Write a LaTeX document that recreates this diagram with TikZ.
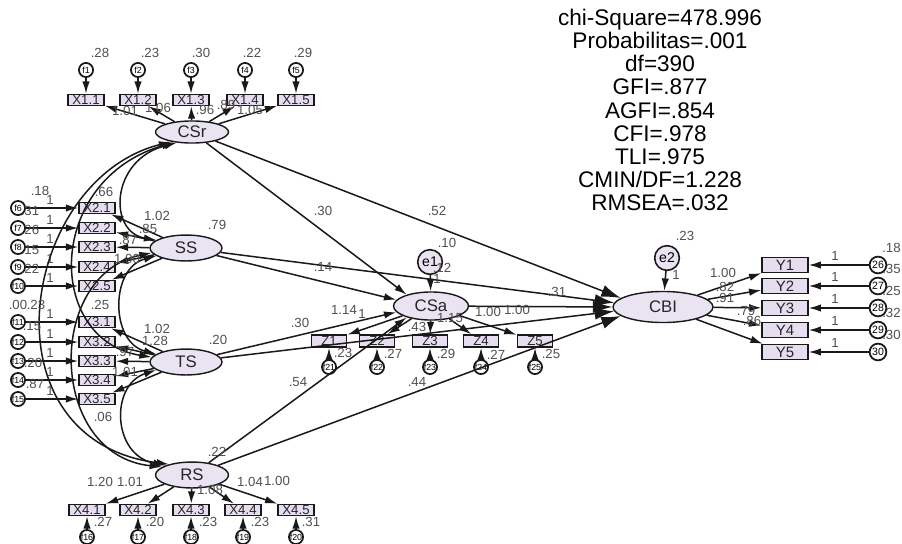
\documentclass[tikz,border=0pt]{standalone}
\usepackage{fontspec}
\setmainfont{Liberation Sans}
\usetikzlibrary{shapes.geometric,arrows.meta}
\definecolor{latfill}{RGB}{233,227,242}
\definecolor{boxfill}{RGB}{230,222,240}
\definecolor{lblcol}{RGB}{80,80,80}
\definecolor{linecol}{RGB}{25,25,25}
\begin{document}
\begin{tikzpicture}[x=0.567pt,y=-0.567pt,
  lat/.style={ellipse,draw=linecol,fill=latfill,line width=0.8pt,inner sep=0pt,font=\fontsize{9.5}{10}\selectfont,text=black!85},
  obs/.style={rectangle,draw=linecol,fill=boxfill,line width=0.9pt,inner sep=0pt,minimum width=20.4pt,minimum height=6.2pt,font=\fontsize{7.5}{7.5}\selectfont,text=black!85},
  yobs/.style={obs,minimum width=26pt,minimum height=8.5pt,font=\fontsize{8.5}{8.5}\selectfont,line width=0.8pt},
  zobs/.style={obs,minimum width=20pt,minimum height=6.8pt},
  err/.style={circle,draw=linecol,fill=white,line width=1pt,minimum size=8pt,inner sep=0pt,font=\fontsize{5}{5}\selectfont},
  yerr/.style={err,minimum size=9.5pt,font=\fontsize{6}{6}\selectfont},
  bigerr/.style={circle,draw=linecol,fill=latfill,line width=0.9pt,minimum size=14pt,inner sep=0pt,font=\fontsize{8}{8}\selectfont},
  lbl/.style={font=\fontsize{7.5}{7.5}\selectfont,text=lblcol,inner sep=0pt},
  arr/.style={draw=linecol,line width=0.85pt,-{Latex[length=7pt,width=4.2pt]}},
  bigarr/.style={draw=linecol,line width=0.85pt,-{Latex[length=11pt,width=7pt]}},
  cov/.style={draw=linecol,line width=0.85pt,{Latex[length=7pt,width=4.2pt]}-{Latex[length=7pt,width=4.2pt]}}
]
\useasboundingbox (0,0) rectangle (902,543);
\fill[white] (0,0) rectangle (902,543);

% fit statistics
\node[font=\fontsize{12.8}{13.1}\selectfont,align=center,inner sep=0pt] (stats) at (660,110)
 {chi-Square=478.996\\Probabilitas=.001\\df=390\\GFI=.877\\AGFI=.854\\CFI=.978\\TLI=.975\\CMIN/DF=1.228\\RMSEA=.032};

% latent variables
\node[lat,minimum width=41.4pt,minimum height=12.5pt] (CSr) at (192,132) {CSr};
\node[lat,minimum width=40.8pt,minimum height=14.7pt] (SS) at (186,248) {SS};
\node[lat,minimum width=40.8pt,minimum height=14.7pt] (TS) at (186,362) {TS};
\node[lat,minimum width=41.4pt,minimum height=14.7pt] (RS) at (192,475) {RS};
\node[lat,minimum width=42.5pt,minimum height=15.9pt] (CSa) at (431,306) {CSa};
\node[lat,minimum width=56.7pt,minimum height=17.6pt] (CBI) at (663,307) {CBI};
\node[bigerr] (e1) at (430,262) {e1};
\node[bigerr] (e2) at (667,258) {e2};

% indicators
\foreach \i/\x in {1/86,2/138,3/191,4/245,5/296}{
  \node[obs] (X1\i) at (\x,100) {X1.\i};
  \node[err] (f\i) at (\x,70) {f\i};
  \draw[arr] (CSr) -- (X1\i);
  \draw[arr] (f\i) -- (X1\i);
}
\foreach \i/\y [evaluate=\i as \k using int(\i+5)] in {1/208,2/228,3/247,4/267,5/286}{
  \node[obs] (X2\i) at (97,\y) {X2.\i};
  \node[err] (f\k) at (18,\y) {f\k};
  \draw[arr] (SS) -- (X2\i);
  \draw[arr] (f\k) -- (X2\i);
  \node[lbl] (oneb\i) at (50,\y-8) {1};
}
\foreach \i/\y [evaluate=\i as \k using int(\i+10)] in {1/322,2/342,3/361,4/380,5/399}{
  \node[obs] (X3\i) at (97,\y) {X3.\i};
  \node[err] (f\k) at (18,\y) {f\k};
  \draw[arr] (TS) -- (X3\i);
  \draw[arr] (f\k) -- (X3\i);
  \node[lbl] (onec\i) at (50,\y-8) {1};
}
\foreach \i/\x [evaluate=\i as \k using int(\i+15)] in {1/87,2/138,3/191,4/243,5/296}{
  \node[obs] (X4\i) at (\x,510) {X4.\i};
  \node[err] (f\k) at (\x,537) {f\k};
  \draw[arr] (RS) -- (X4\i);
  \draw[arr] (f\k) -- (X4\i);
}
\foreach \i/\x [evaluate=\i as \k using int(\i+20)] in {1/329,2/377,3/430,4/481,5/535}{
  \node[zobs] (Z\i) at (\x,341) {Z\i};
  \node[err] (f\k) at (\x,367) {f\k};
  \draw[arr] (CSa) -- (Z\i);
  \draw[arr] (f\k) -- (Z\i);
}
\foreach \i/\y [evaluate=\i as \k using int(\i+25)] in {1/265,2/286,3/308,4/330,5/352}{
  \node[yobs] (Y\i) at (785,\y) {Y\i};
  \node[yerr] (g\k) at (878,\y) {\k};
  \draw[arr] (CBI) -- (Y\i);
  \draw[arr] (g\k) -- (Y\i);
  \node[lbl] (oned\i) at (835,\y-9) {1};
}

% covariances
\draw[cov] (CSr.215) .. controls (110,160) and (108,232) .. (SS.165);
\draw[cov] (SS.195) .. controls (110,268) and (110,342) .. (TS.165);
\draw[cov] (TS.195) .. controls (110,385) and (112,455) .. (RS.160);
\draw[cov] (CSr.210) .. controls (45,180) and (45,340) .. (TS.172);
\draw[cov] (SS.188) .. controls (45,275) and (48,455) .. (RS.165);
\draw[cov] (CSr.205) .. controls (20,180) and (-20,440) .. (RS.155);

% structural paths
\draw[arr] (CSr) -- (CSa.155);
\draw[arr] (SS) -- (CSa.170);
\draw[arr] (TS) -- (CSa.190);
\draw[arr] (RS) -- (CSa.205);
\draw[bigarr] (CSr) -- (CBI.168);
\draw[bigarr] (SS) -- (CBI.175);
\draw[bigarr] (CSa) -- (CBI.west);
\draw[bigarr] (TS) -- (CBI.185);
\draw[bigarr] (RS) -- (CBI.192);
\draw[arr] (e1) -- (CSa);
\draw[arr] (e2) -- (CBI);

% path coefficients and variances
\foreach \t/\x/\y [count=\n] in {.30/323/211,.52/437/211,.14/323/267,.31/557/292,.30/300/323,.54/298/382,.44/417/382,.10/447/243,.12/442/268,1/437/279,.23/685/236,1/676/275,.79/217/225,.20/218/340,.22/217/452,.66/104/192,.25/100/305,.06/103/417}
  \node[lbl] (pl\n) at (\x,\y) {\t};
% error variances
\foreach \t/\x/\y [count=\n] in {.28/100/53,.23/150/53,.30/201/53,.22/252/53,.29/303/53,
  .18/40/191,.31/30/211,.26/30/230,.15/30/250,.22/30/269,.00/18/305,.23/36/305,.15/32/326,.20/33/363,.87/35/384,
  .27/103/522,.20/155/522,.23/208/522,.23/260/522,.31/311/522,
  .23/343/353,.27/393/354,.29/446/354,.27/496/355,.25/551/354}
  \node[lbl] (vl\n) at (\x,\y) {\t};
\foreach \t/\y [count=\n] in {.18/248,.35/269,.25/291,.32/313,.30/335}
  \node[lbl,anchor=east] (yv\n) at (901,\y) {\t};
% loadings
\foreach \t/\x/\y [count=\n] in {1.01/125/111,1.06/158/108,.96/205/110,.89/226/105,1.05/250/110,
  1.02/157/216,.85/148/229,.87/128/240,1.00/127/259,
  1.02/157/329,1.28/155/341,.97/125/352,1.01/125/372,
  1.20/100/482,1.01/130/482,1.08/210/490,1.04/250/482,1.00/277/481,
  1.14/344/310,1/362/314,.43/417/327,1.15/450/318,1.00/488/312,1.00/517/310,
  1.00/723/273,.82/725/287,.91/725/298,.79/746/311,.86/752/321}
  \node[lbl] (ld\n) at (\x,\y) {\t};
\end{tikzpicture}
\end{document}
